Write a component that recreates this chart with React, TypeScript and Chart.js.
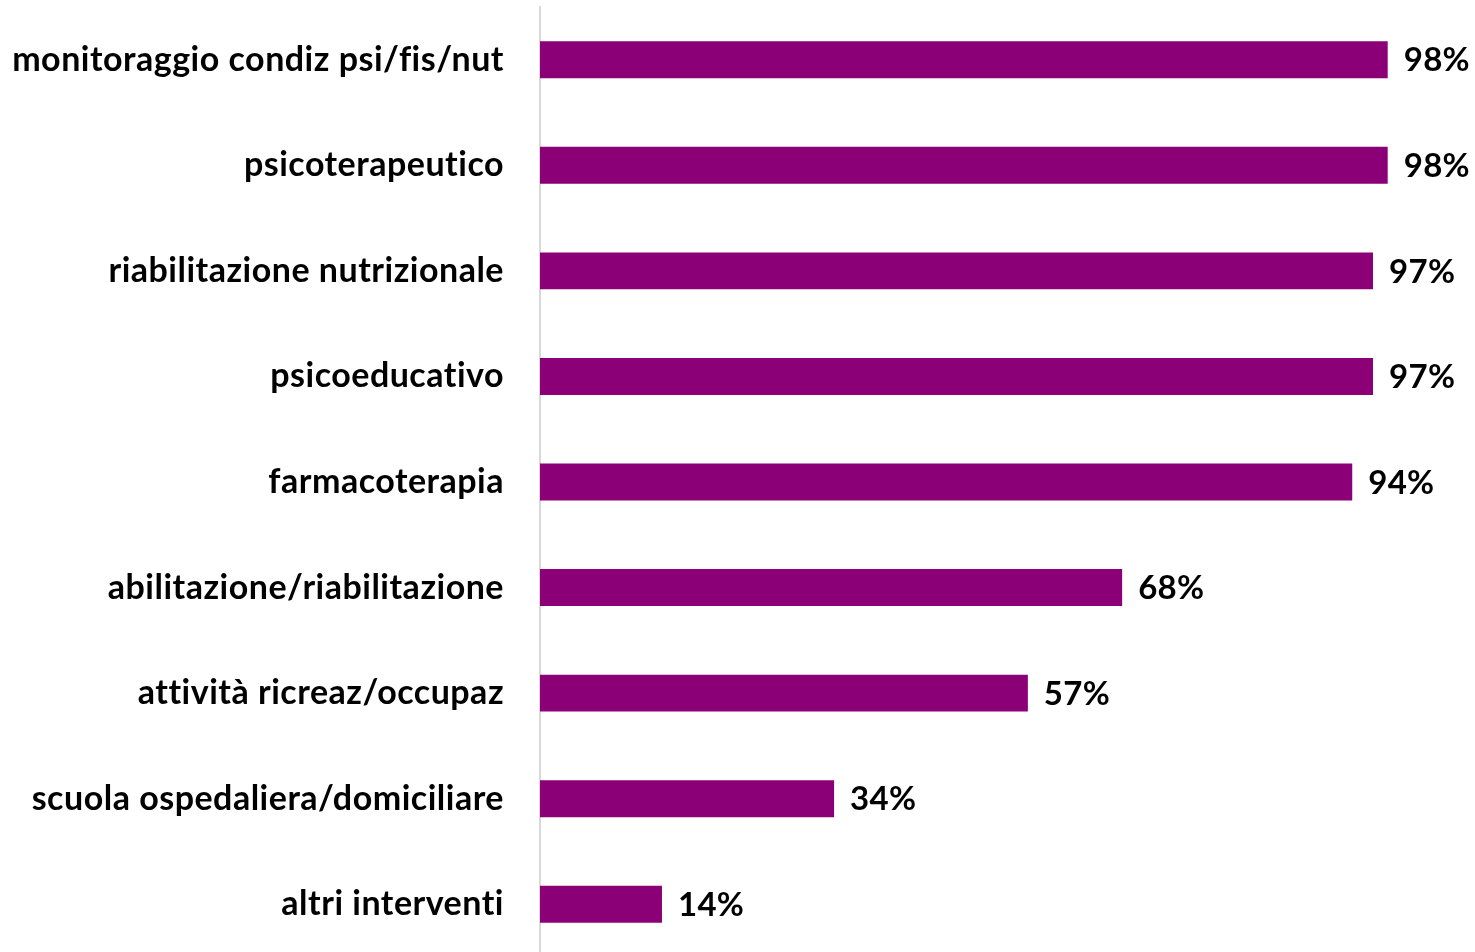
import React, { useEffect, useRef } from "react";
import { Chart, registerables } from "chart.js";

Chart.register(...registerables);

const categories = [
  "monitoraggio condiz psi/fis/nut",
  "psicoterapeutico",
  "riabilitazione nutrizionale",
  "psicoeducativo",
  "farmacoterapia",
  "abilitazione/riabilitazione",
  "attività ricreaz/occupaz",
  "scuola ospedaliera/domiciliare",
  "altri interventi",
];

// bar lengths (percent)
const values = [98, 98, 96.3, 96.3, 93.9, 67.3, 56.4, 34, 14.1];

// printed labels (rounded values shown in the picture)
const valueLabelsText = ["98%", "98%", "97%", "97%", "94%", "68%", "57%", "34%", "14%"];

const FONT_FAMILY = "Lato, 'Open Sans', sans-serif";
const BAR_COLOR = "#8B0077";

const spacing = {
  id: "spacing",
  beforeDraw(chart: any) {
    chart.ctx.letterSpacing = "0.5px";
  },
};

const valueLabels = {
  id: "valueLabels",
  afterDatasetsDraw(chart: any) {
    const ctx = chart.ctx;
    const meta = chart.getDatasetMeta(0);
    ctx.save();
    ctx.letterSpacing = "0.3px";
    ctx.font = `bold 33px ${FONT_FAMILY}`;
    ctx.fillStyle = "#000000";
    ctx.textAlign = "left";
    ctx.textBaseline = "middle";
    meta.data.forEach((bar: any, i: number) => {
      ctx.fillText(valueLabelsText[i], bar.x + 16, bar.y + 1);
    });
    ctx.restore();
  },
};

export default function App() {
  const ref = useRef<HTMLCanvasElement | null>(null);

  useEffect(() => {
    if (!ref.current) return;
    const chart = new Chart(ref.current, {
      type: "bar",
      data: {
        labels: categories,
        datasets: [
          {
            data: values,
            backgroundColor: BAR_COLOR,
            borderWidth: 0,
            categoryPercentage: 1,
            barPercentage: 0.35,
          },
        ],
      },
      options: {
        indexAxis: "y",
        animation: false,
        responsive: false,
        maintainAspectRatio: false,
        layout: { padding: { top: 7, right: 70, bottom: 0, left: 0 } },
        plugins: {
          legend: { display: false },
          tooltip: { enabled: false },
        },
        scales: {
          x: {
            display: false,
            min: 0,
            max: 100,
          },
          y: {
            afterFit(scale: any) {
              scale.width = 540;
              scale.paddingTop = 0;
              scale.paddingBottom = 0;
            },
            grid: { display: false, drawTicks: false },
            border: { display: true, color: "#d9d9d9", width: 2 },
            ticks: {
              padding: 36,
              color: "#000000",
              font: { family: FONT_FAMILY, size: 34, weight: "bold" },
            },
          },
        },
      },
      plugins: [spacing, valueLabels],
    });
    return () => chart.destroy();
  }, []);

  return (
    <div style={{ position: "fixed", left: 0, top: 0, width: 1475, height: 957, background: "#fff" }}>
      <canvas ref={ref} width={1475} height={957} style={{ width: 1475, height: 957 }} />
    </div>
  );
}
